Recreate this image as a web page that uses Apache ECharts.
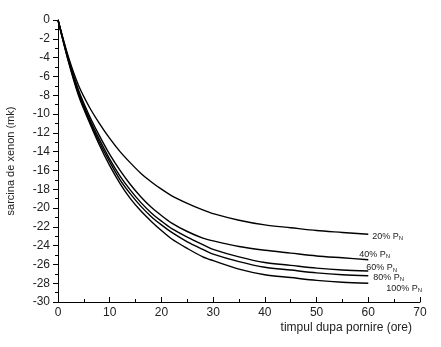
<!DOCTYPE html>
<html><head><meta charset="utf-8">
<script src="https://cdn.jsdelivr.net/npm/echarts@6/dist/echarts.min.js"></script>
<style>html,body{margin:0;padding:0;background:#fff}#c{width:441px;height:347px}</style>
</head><body><div id="c"></div>
<script>
const hours = [0,2,4,6,8,10,12,14,16,18,20,22,25,28,30,35,40,45,50,55,60];
const p20  = [0,-3.9,-7.0,-9.2,-11.0,-12.6,-14.0,-15.2,-16.3,-17.2,-18.0,-18.7,-19.5,-20.2,-20.6,-21.3,-21.8,-22.1,-22.4,-22.6,-22.8];
const p40  = [0,-4.1,-7.5,-10.1,-12.3,-14.3,-16.0,-17.5,-18.8,-19.9,-20.8,-21.6,-22.5,-23.2,-23.5,-24.1,-24.5,-24.8,-25.1,-25.3,-25.5];
const p60  = [0,-4.2,-7.7,-10.4,-12.7,-14.8,-16.6,-18.1,-19.4,-20.5,-21.4,-22.2,-23.1,-23.9,-24.4,-25.2,-25.8,-26.1,-26.4,-26.6,-26.7];
const p80  = [0,-4.3,-7.9,-10.6,-13.0,-15.1,-17.0,-18.5,-19.8,-20.9,-21.8,-22.6,-23.6,-24.4,-24.9,-25.7,-26.3,-26.6,-26.9,-27.1,-27.2];
const p100 = [0,-4.4,-8.1,-10.8,-13.3,-15.5,-17.4,-19.0,-20.3,-21.4,-22.4,-23.3,-24.3,-25.2,-25.6,-26.5,-27.1,-27.4,-27.7,-27.9,-28.0];
const seriesLabels = ['20%','40%','60%','80%','100%'];
const seriesData = [p20,p40,p60,p80,p100];
const labelOffsets = [[0,2],[-13,-5],[-6,-3],[1,2],[14,5]];

const chart = echarts.init(document.getElementById('c'));
const font = 'Liberation Sans, Arial, sans-serif';
chart.setOption({
  animation:false,
  grid:{left:58,right:21,top:20,bottom:45,outerBoundsMode:'none',containLabel:false},
  xAxis:{type:'value',min:0,max:70,interval:10,
    name:'timpul dupa pornire (ore)',nameLocation:'end',nameGap:-8,
    nameTextStyle:{fontFamily:font,fontSize:12,color:'#222',align:'right',verticalAlign:'top',padding:[20,0,0,0]},
    axisLine:{onZero:false,lineStyle:{color:'#000',width:1}},
    axisTick:{inside:true,length:5,lineStyle:{color:'#000'}},
    minorTick:{show:true,splitNumber:2,length:3,lineStyle:{color:'#000'}},
    axisLabel:{fontFamily:font,fontSize:12,color:'#222',margin:5},
    splitLine:{show:false}},
  yAxis:{type:'value',min:-30,max:0,interval:2,
    name:'sarcina de xenon (mk)',nameLocation:'middle',nameGap:42,
    nameTextStyle:{fontFamily:font,fontSize:11,color:'#222'},
    axisLine:{show:true,onZero:false,lineStyle:{color:'#000',width:1}},
    axisTick:{show:true,length:5,lineStyle:{color:'#000'}},
    minorTick:{show:true,splitNumber:2,length:3,lineStyle:{color:'#000'}},
    axisLabel:{fontFamily:font,fontSize:12,color:'#222',margin:8},
    splitLine:{show:false}},
  series: seriesData.map((d,i)=>({
    type:'line',showSymbol:false,smooth:0.3,
    data:hours.map((h,j)=>[h,d[j]]),
    lineStyle:{color:'#000',width:1.4},
    endLabel:{show:true,offset:labelOffsets[i],distance:4,
      formatter:'{a|'+seriesLabels[i]+' P}{b|N}',
      rich:{a:{fontFamily:font,fontSize:9,color:'#222'},b:{fontFamily:font,fontSize:6,color:'#222',verticalAlign:'bottom',padding:[4,0,0,0]}}}
  }))
});
</script></body></html>
